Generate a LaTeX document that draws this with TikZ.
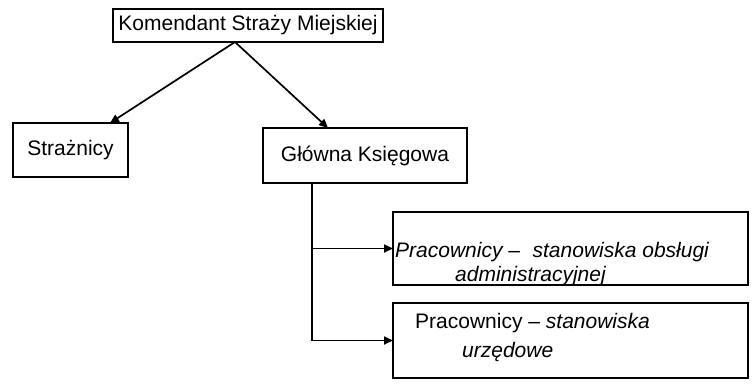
\documentclass[tikz,border=0pt]{standalone}
\usepackage{fontspec}
\setmainfont{Liberation Sans}
\usetikzlibrary{arrows.meta,calc}
\begin{document}
\begin{tikzpicture}[x=1pt,y=-1pt,
  box/.style={draw,line width=1.8pt,inner sep=0pt,outer sep=0pt,font=\fontsize{21}{24}\selectfont},
  lbl/.style={inner sep=0pt,anchor=west,font=\fontsize{21}{24}\selectfont},
  conn/.style={line width=1.7pt},
  arr/.style={conn,-{Triangle[length=9pt,width=8pt]}}]
\useasboundingbox (0,0) rectangle (753,384);
\node[box,minimum width=270pt,minimum height=33pt] (top) at (248,25.5) {Komendant Straży Miejskiej};
\node[box,minimum width=115pt,minimum height=54pt] (straz) at (70.5,150) {Strażnicy};
\node[box,minimum width=204pt,minimum height=55pt] (glow) at (365,155.5) {Główna Księgowa};
\node[box,minimum width=355pt,minimum height=73pt] (p1) at (570.5,248.5) {};
\node[box,minimum width=355pt,minimum height=75pt] (p2) at (570.5,340.5) {};
\node[lbl] (p1a) at (395,252) {\itshape Pracownicy –\hspace{0.6em}stanowiska obsługi};
\node[lbl] (p1b) at (455,276) {\itshape administracyjnej};
\node[lbl] (p2a) at (415,323) {Pracownicy – \textit{stanowiska}};
\node[lbl] (p2b) at (462,352) {\itshape urzędowe};
\coordinate (o) at ($(top.south)+(-13,0)$);
\coordinate (gs) at ($(glow.south west)+(49,0)$);
\coordinate (br) at (gs |- p1.west);
\draw[arr] (o) -- ($(straz.north east)+(-18,0)$);
\draw[arr] (o) -- ($(glow.north west)+(65,0)$);
\draw[arr] (gs) |- (p2.west);
\draw[arr] (br) -- (p1.west);
\end{tikzpicture}
\end{document}
